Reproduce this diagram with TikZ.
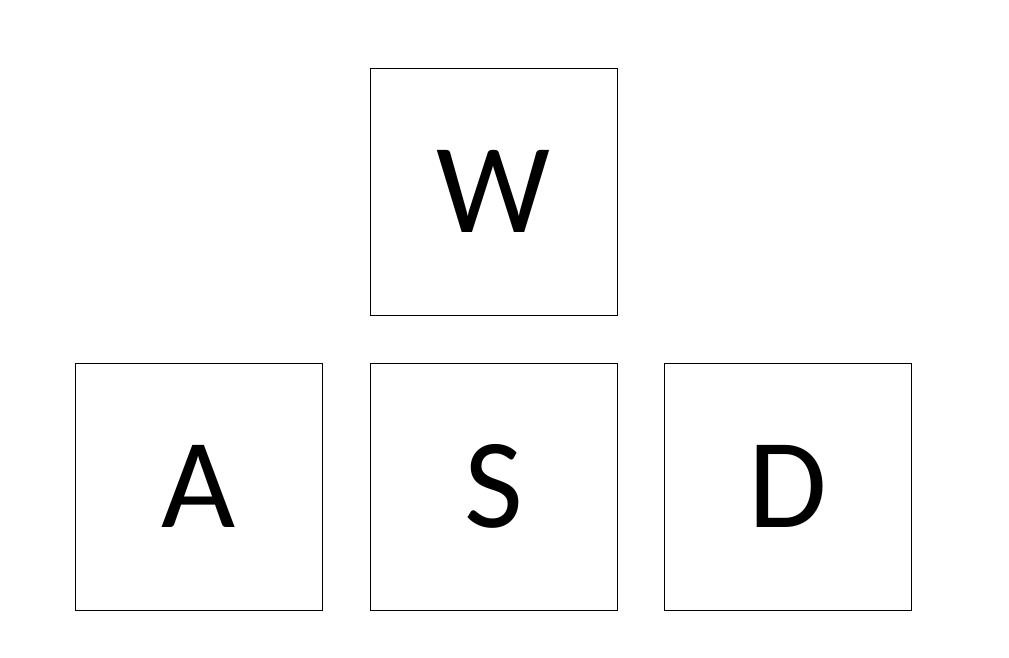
\documentclass[tikz,border=0pt]{standalone}
\usepackage{fontspec}
\setmainfont{Carlito}
\begin{document}
\begin{tikzpicture}[x=1pt,y=-1pt,
  keybox/.style={draw=black,line width=0.9pt,minimum width=247pt,minimum height=247pt,inner sep=0pt,
    font=\fontsize{128}{128}\selectfont}]
\useasboundingbox (0,0) rectangle (1009,658);
\node[keybox] (w) at (493.5,191.5) {W};
\node[keybox] (a) at (198.5,486.5) {A};
\node[keybox] (s) at (493.5,486.5) {S};
\node[keybox] (d) at (787.5,486.5) {D};
\end{tikzpicture}
\end{document}
